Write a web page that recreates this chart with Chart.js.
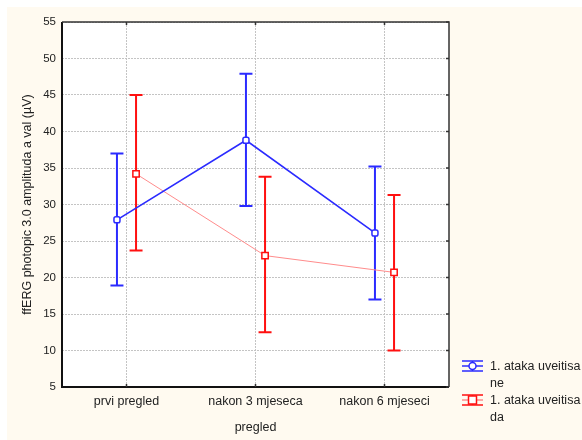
<!DOCTYPE html>
<html>
<head>
<meta charset="utf-8">
<script src="https://cdn.jsdelivr.net/npm/chart.js@4"></script>
<style>
  html, body { margin: 0; padding: 0; background: #ffffff; }
  canvas { display: block; }
</style>
</head>
<body>
<canvas id="chart" width="582" height="440"></canvas>
<script>
// data
const categories = ["prvi pregled", "nakon 3 mjeseca", "nakon 6 mjeseci"];
const seriesNames = ["1. ataka uveitisa ne", "1. ataka uveitisa da"];
const neMean = [27.9, 38.8, 26.1];
const neLow = [18.9, 29.8, 17.0];
const neHigh = [37.0, 47.9, 35.2];
const daMean = [34.2, 23.0, 20.7];
const daLow = [23.7, 12.5, 10.0];
const daHigh = [45.0, 33.8, 31.3];
const yTicks = [5, 10, 15, 20, 25, 30, 35, 40, 45, 50, 55];

const FONT = "'Liberation Sans', Arial, sans-serif";
const BLUE = "#2b2bff";
const RED = "#ff1010";
const PINK = "#ff8c8c";
const SHIFT = 0.074; // horizontal dodge of the two series, in category units

const toPoints = (vals, off) => vals.map((v, i) => ({ x: i + 1 + off, y: v }));

const errorSets = [
    { low: neLow, high: neHigh, off: -SHIFT, color: BLUE },
    { low: daLow, high: daHigh, off: SHIFT, color: RED }
];

const statPlugin = {
    id: "statPlugin",
    beforeDraw(chart) {
        const { ctx, chartArea: a } = chart;
        ctx.save();
        ctx.fillStyle = "#fffaf0";
        ctx.fillRect(7, 7, chart.width - 7, chart.height - 7);
        ctx.fillStyle = "#ffffff";
        ctx.fillRect(a.left, a.top, a.right - a.left, a.bottom - a.top);
        ctx.restore();
    },
    beforeDatasetsDraw(chart) {
        const { ctx, scales: { x, y } } = chart;
        ctx.save();
        ctx.lineWidth = 2;
        errorSets.forEach(s => {
            ctx.strokeStyle = s.color;
            s.low.forEach((lo, i) => {
                const px = x.getPixelForValue(i + 1 + s.off);
                const y1 = y.getPixelForValue(lo);
                const y2 = y.getPixelForValue(s.high[i]);
                ctx.beginPath();
                ctx.moveTo(px, y1); ctx.lineTo(px, y2);
                ctx.moveTo(px - 6.5, y1); ctx.lineTo(px + 6.5, y1);
                ctx.moveTo(px - 6.5, y2); ctx.lineTo(px + 6.5, y2);
                ctx.stroke();
            });
        });
        ctx.restore();
    },
    afterDraw(chart) {
        const { ctx, chartArea: a, scales: { x, y } } = chart;
        ctx.save();
        // frame
        ctx.strokeStyle = "#111";
        ctx.lineWidth = 2;
        ctx.beginPath();
        ctx.moveTo(a.left, a.top); ctx.lineTo(a.left, a.bottom); ctx.lineTo(a.right, a.bottom);
        ctx.stroke();
        ctx.strokeStyle = "#333";
        ctx.lineWidth = 1.5;
        ctx.beginPath();
        ctx.moveTo(a.left, a.top); ctx.lineTo(a.right, a.top); ctx.lineTo(a.right, a.bottom);
        ctx.stroke();
        // inward ticks
        ctx.lineWidth = 1.5;
        ctx.beginPath();
        yTicks.forEach(v => {
            const py = y.getPixelForValue(v);
            ctx.moveTo(a.right, py); ctx.lineTo(a.right - 3, py);
        });
        categories.forEach((c, i) => {
            const px = x.getPixelForValue(i + 1);
            ctx.moveTo(px, a.top); ctx.lineTo(px, a.top + 3);
            ctx.moveTo(px, a.bottom); ctx.lineTo(px, a.bottom - 3);
        });
        ctx.stroke();

        // legend
        const items = [
            { color: BLUE, line: BLUE, style: "circle", lines: ["1. ataka uveitisa", "ne"], y: 366 },
            { color: RED, line: PINK, style: "rect", lines: ["1. ataka uveitisa", "da"], y: 400 }
        ];
        items.forEach(it => {
            const x0 = 462, x1 = 483, cx = 472.5;
            ctx.lineWidth = 1.5;
            ctx.strokeStyle = it.line;
            ctx.beginPath();
            ctx.moveTo(x0, it.y); ctx.lineTo(x1, it.y);
            ctx.stroke();
            ctx.strokeStyle = it.color;
            ctx.beginPath();
            ctx.moveTo(x0, it.y - 5); ctx.lineTo(x1, it.y - 5);
            ctx.moveTo(x0, it.y + 5); ctx.lineTo(x1, it.y + 5);
            ctx.moveTo(cx, it.y - 5); ctx.lineTo(cx, it.y + 5);
            ctx.stroke();
            ctx.fillStyle = "#fff";
            ctx.beginPath();
            if (it.style === "circle") ctx.arc(cx, it.y, 3.5, 0, Math.PI * 2);
            else ctx.rect(cx - 4, it.y - 4, 8, 8);
            ctx.fill();
            ctx.stroke();
            ctx.fillStyle = "#222";
            ctx.font = "12.5px " + FONT;
            ctx.textBaseline = "middle";
            ctx.textAlign = "left";
            ctx.fillText(it.lines[0], 490, it.y + 1);
            ctx.fillText(it.lines[1], 490, it.y + 18);
        });
        ctx.restore();
    }
};

new Chart(document.getElementById("chart"), {
    type: "line",
    data: {
        datasets: [
            {
                label: seriesNames[0],
                data: toPoints(neMean, -SHIFT),
                borderColor: BLUE,
                borderWidth: 1.6,
                pointStyle: "rectRounded",
                pointRadius: 3.5,
                pointBorderWidth: 1.5,
                pointBackgroundColor: "#fff",
                pointBorderColor: BLUE
            },
            {
                label: seriesNames[1],
                data: toPoints(daMean, SHIFT),
                borderColor: PINK,
                borderWidth: 1,
                pointStyle: "rect",
                pointRadius: 4.5,
                pointBorderWidth: 1.5,
                pointBackgroundColor: "#fff",
                pointBorderColor: RED
            }
        ]
    },
    options: {
        responsive: false,
        animation: false,
        devicePixelRatio: 1,
        layout: { padding: { top: 22, right: 133, bottom: 0, left: 0 } },
        plugins: { legend: { display: false }, tooltip: { enabled: false } },
        scales: {
            x: {
                type: "linear",
                min: 0.5,
                max: 3.5,
                afterBuildTicks: s => { s.ticks = categories.map((c, i) => ({ value: i + 1 })); },
                afterFit: s => { s.height = 53; },
                ticks: {
                    callback: v => categories[v - 1],
                    font: { family: FONT, size: 12.5 },
                    color: "#222",
                    padding: 7,
                    maxRotation: 0
                },
                grid: { color: "#c4c4c4", drawTicks: false },
                border: { display: false, dash: [2, 1] },
                title: {
                    display: true,
                    text: "pregled",
                    font: { family: FONT, size: 12.5 },
                    color: "#222",
                    padding: { top: 0, bottom: 5 }
                }
            },
            y: {
                min: 5,
                max: 55,
                afterBuildTicks: s => { s.ticks = yTicks.map(v => ({ value: v })); },
                afterFit: s => { s.width = 62; },
                ticks: {
                    font: { family: FONT, size: 11.5 },
                    color: "#222",
                    padding: 6
                },
                grid: { color: "#c4c4c4", drawTicks: false },
                border: { display: false, dash: [2, 1] },
                title: {
                    display: true,
                    text: "ffERG photopic 3.0 amplituda a val (µV)",
                    font: { family: FONT, size: 12.5 },
                    color: "#222",
                    padding: { top: 20, bottom: 0 }
                }
            }
        }
    },
    plugins: [statPlugin]
});
</script>
</body>
</html>
